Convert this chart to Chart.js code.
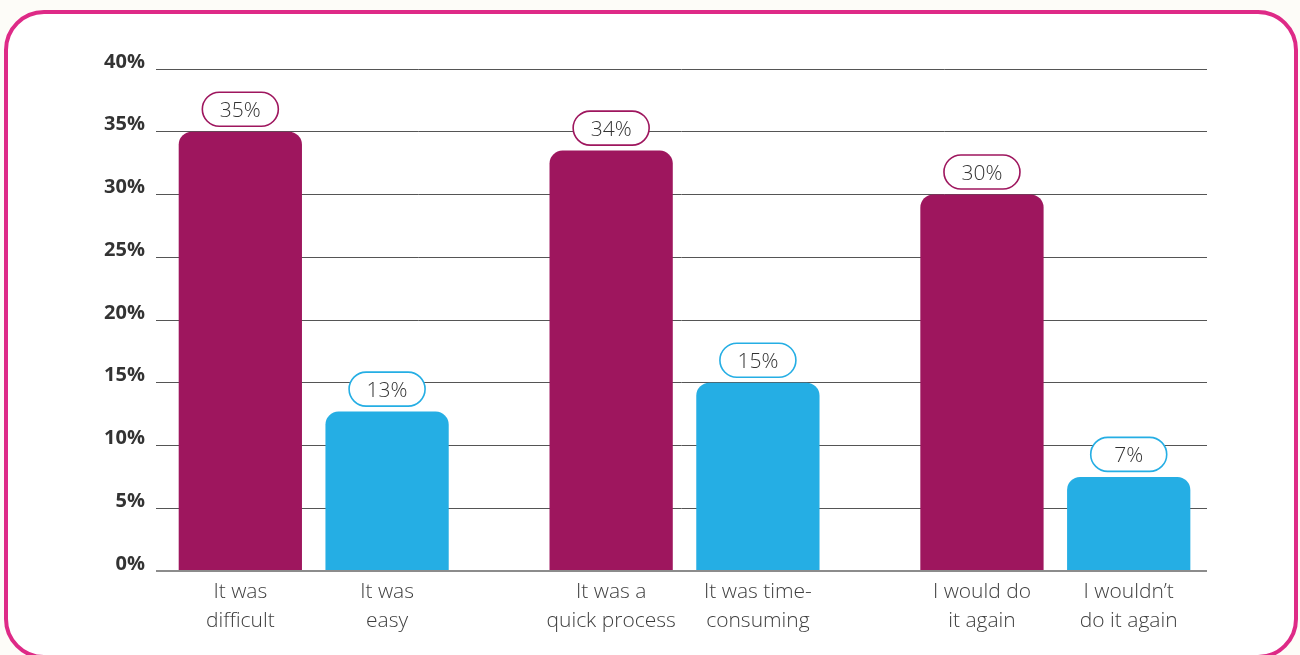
<!DOCTYPE html>
<html>
<head>
<meta charset="utf-8">
<script src="https://cdn.jsdelivr.net/npm/chart.js@4.4.1/dist/chart.umd.min.js"></script>
<style>
  html, body { margin: 0; padding: 0; background: #fdfcf8; }
  #wrap { position: relative; width: 1300px; height: 655px; overflow: hidden; }
  #frame {
    position: absolute; left: 4px; top: 10px; width: 1286px; height: 641px;
    border: 4.5px solid #de2a87; border-radius: 40px; background: #fff;
  }
  #myChart { position: absolute; left: 0; top: 0; }
</style>
</head>
<body>
<div id="wrap">
  <div id="frame"></div>
  <canvas id="myChart" width="1300" height="655"></canvas>
</div>
<script>
// data
const categories = [
  ['It was', 'difficult'],
  ['It was', 'easy'],
  ['It was a', 'quick process'],
  ['It was time-', 'consuming'],
  ['I would do', 'it again'],
  ['I wouldn\u2019t', 'do it again']
];
const values = [35, 12.7, 33.5, 15, 30, 7.5];
const valueLabels = ['35%', '13%', '34%', '15%', '30%', '7%'];
const yTicks = [0, 5, 10, 15, 20, 25, 30, 35, 40];

const magenta = '#9e165e';
const blue = '#25aee4';
const fontFam = '"Open Sans", Lato, sans-serif';

// bars come in pairs: first of each pair is magenta, second is blue
const firstOfPair = [];
const secondOfPair = [];
const pairIdx = [];
for (let i = 0; i < values.length; i += 2) {
  pairIdx.push(i / 2);
  firstOfPair.push({ x: i / 2, y: values[i] });
  secondOfPair.push({ x: i / 2, y: values[i + 1] });
}

const labelPlugin = {
  id: 'barLabels',
  afterDatasetsDraw(chart) {
    const ctx = chart.ctx;
    const area = chart.chartArea;
    chart.data.datasets.forEach((ds, di) => {
      const meta = chart.getDatasetMeta(di);
      meta.data.forEach((bar, i) => {
        const k = i * 2 + di;
        // pill with the value
        const w = 76, h = 34;
        const bottom = bar.y - 5.5;
        ctx.save();
        ctx.beginPath();
        ctx.roundRect(bar.x - w / 2, bottom - h, w, h, h / 2);
        ctx.fillStyle = '#fff';
        ctx.fill();
        ctx.lineWidth = 1.6;
        ctx.strokeStyle = ds.backgroundColor;
        ctx.stroke();
        ctx.fillStyle = '#333';
        ctx.font = '300 21px ' + fontFam;
        ctx.textAlign = 'center';
        ctx.textBaseline = 'alphabetic';
        ctx.fillText(valueLabels[k], bar.x, bottom - 9.5);
        // category text under the bar
        ctx.fillStyle = '#404040';
        ctx.font = '300 21px ' + fontFam;
        categories[k].forEach((line, li) => {
          ctx.fillText(line, bar.x, area.bottom + 27 + li * 29);
        });
        ctx.restore();
      });
    });
  }
};

const ctx = document.getElementById('myChart');
new Chart(ctx, {
  type: 'bar',
  data: {
    datasets: [
      { data: firstOfPair, backgroundColor: magenta },
      { data: secondOfPair, backgroundColor: blue }
    ]
  },
  options: {
    responsive: false,
    animation: false,
    layout: { padding: { left: 0, right: 93, top: 69, bottom: 84 } },
    datasets: {
      bar: {
        categoryPercentage: 0.7915,
        barPercentage: 0.84,
        borderRadius: { topLeft: 13, topRight: 13, bottomLeft: 0, bottomRight: 0 },
        borderSkipped: 'bottom'
      }
    },
    plugins: {
      legend: { display: false },
      tooltip: { enabled: false }
    },
    scales: {
      x: {
        type: 'linear',
        display: false,
        offset: false,
        min: -0.4253,
        max: 2.409,
        afterBuildTicks: (scale) => { scale.ticks = pairIdx.map(v => ({ value: v })); }
      },
      y: {
        min: 0,
        max: 40,
        afterBuildTicks: (scale) => { scale.ticks = yTicks.map(v => ({ value: v })); },
        afterFit: (scale) => { scale.width = 156; },
        border: { display: false },
        grid: {
          drawTicks: false,
          color: (c) => c.index === 0 ? '#8c8c8c' : '#555',
          lineWidth: (c) => c.index === 0 ? 2 : 1
        },
        ticks: {
          padding: 11,
          labelOffset: -7,
          color: '#333',
          font: { family: fontFam, size: 20, weight: 'bold' },
          callback: (v) => v + '%'
        }
      }
    }
  },
  plugins: [labelPlugin]
});
</script>
</body>
</html>
